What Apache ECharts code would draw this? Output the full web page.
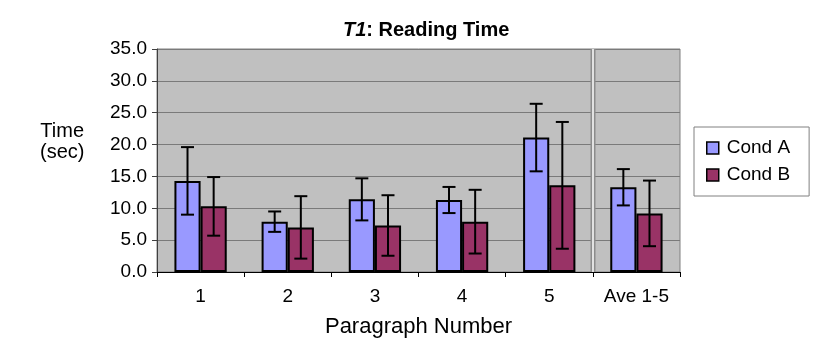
<!DOCTYPE html>
<html>
<head>
<meta charset="utf-8">
<script src="https://cdn.jsdelivr.net/npm/echarts@6/dist/echarts.min.js"></script>
<style>
html,body{margin:0;padding:0;background:#fff;}
#chart{width:837px;height:360px;}
</style>
</head>
<body>
<div id="chart"></div>
<script>
var categories = ['1', '2', '3', '4', '5', 'Ave 1-5'];
var condA = [14.3, 7.9, 11.4, 11.3, 21.1, 13.3];
var condB = [10.3, 7.0, 7.3, 7.9, 13.6, 9.2];
var errA = [5.3, 1.6, 3.3, 2.05, 5.3, 2.85];
var errB = [4.6, 4.9, 4.75, 5.0, 9.95, 5.15];
var seriesNames = ['Cond A', 'Cond B'];
var separatorAt = [5]; // boundary before the "Ave 1-5" category
var yTicks = { min: 0, max: 35, interval: 5 };

var FONT = 'Liberation Sans, Arial, sans-serif';
var chart = echarts.init(document.getElementById('chart'), null, { renderer: 'canvas' });

function errData(vals, errs) {
  return vals.map(function (v, i) { return [i, v - errs[i], v + errs[i]]; });
}
function errorRenderer(sign) {
  return function (params, api) {
    var catW = api.size([1, 0])[0];
    var off = sign * catW * 0.6 / 4;
    var lo = api.coord([api.value(0), api.value(1)]);
    var hi = api.coord([api.value(0), api.value(2)]);
    var x = lo[0] + off;
    var cap = 6.5;
    var st = { stroke: '#000', lineWidth: 2 };
    return {
      type: 'group',
      children: [
        { type: 'line', shape: { x1: x, y1: lo[1], x2: x, y2: hi[1] }, style: st },
        { type: 'line', shape: { x1: x - cap, y1: lo[1], x2: x + cap, y2: lo[1] }, style: st },
        { type: 'line', shape: { x1: x - cap, y1: hi[1], x2: x + cap, y2: hi[1] }, style: st }
      ]
    };
  };
}
function separatorRenderer(params, api) {
  var b = api.coord([api.value(0), yTicks.min]);
  var t = api.coord([api.value(0), yTicks.max]);
  var x = Math.round(b[0]);
  return {
    type: 'group',
    children: [
      { type: 'rect', shape: { x: x - 2.5, y: t[1], width: 5, height: b[1] - t[1] }, style: { fill: '#8c8c8c' } },
      { type: 'rect', shape: { x: x - 0.75, y: t[1], width: 1.5, height: b[1] - t[1] }, style: { fill: '#ffffff' } }
    ]
  };
}

var option = {
  animation: false,
  textStyle: { fontFamily: FONT },
  title: {
    text: '{i|T1}{b|: Reading Time}',
    left: 338,
    top: 15,
    textStyle: {
      rich: {
        i: { fontFamily: FONT, fontSize: 20, fontWeight: 'bold', fontStyle: 'italic', color: '#000' },
        b: { fontFamily: FONT, fontSize: 20, fontWeight: 'bold', color: '#000' }
      }
    }
  },
  legend: {
    data: seriesNames,
    orient: 'vertical',
    left: 694,
    top: 127,
    padding: [11, 19, 11, 12],
    itemGap: 7,
    itemWidth: 12,
    itemHeight: 12,
    icon: 'rect',
    backgroundColor: '#fff',
    borderColor: '#808080',
    borderWidth: 1,
    borderRadius: 0,
    itemStyle: { borderColor: '#000', borderWidth: 1.5 },
    textStyle: { fontFamily: FONT, fontSize: 19, color: '#000', lineHeight: 20, padding: [0, 0, 0, 3] }
  },
  graphic: [
    {
      type: 'text',
      left: 40,
      top: 121,
      style: {
        text: 'Time\n(sec)',
        fontFamily: FONT,
        fontSize: 20,
        lineHeight: 21,
        fill: '#000',
        textAlign: 'center'
      }
    }
  ],
  grid: {
    left: 157,
    right: 157,
    top: 49,
    bottom: 88,
    show: true,
    backgroundColor: '#c0c0c0',
    borderColor: '#808080',
    borderWidth: 1
  },
  xAxis: [
    {
      type: 'category',
      data: categories,
      name: 'Paragraph Number',
      nameLocation: 'middle',
      nameGap: 44,
      nameTextStyle: { fontFamily: FONT, fontSize: 22, color: '#000' },
      axisLine: { lineStyle: { color: '#000', width: 1 } },
      axisTick: { show: true, length: 5, inside: false, lineStyle: { color: '#000' } },
      axisLabel: { fontFamily: FONT, fontSize: 19, color: '#000', margin: 15 },
      splitLine: { show: false }
    },
    {
      type: 'value',
      min: 0,
      max: categories.length,
      show: false
    }
  ],
  yAxis: {
    type: 'value',
    min: yTicks.min,
    max: yTicks.max,
    interval: yTicks.interval,
    axisLine: { show: true, lineStyle: { color: '#404040', width: 1 } },
    axisTick: { show: true, length: 5, inside: false, lineStyle: { color: '#404040' } },
    axisLabel: {
      fontFamily: FONT, fontSize: 19, color: '#000', margin: 10,
      formatter: function (v) { return v.toFixed(1); }
    },
    splitLine: { show: true, lineStyle: { color: '#7a7a7a', width: 1.2 } }
  },
  series: [
    {
      type: 'custom',
      name: 'separator',
      xAxisIndex: 1,
      renderItem: separatorRenderer,
      data: separatorAt.map(function (s) { return [s, yTicks.min]; }),
      encode: { x: 0, y: 1 },
      silent: true,
      z: 1
    },
    {
      name: seriesNames[0],
      type: 'bar',
      data: condA,
      barGap: '0%',
      barCategoryGap: '40%',
      itemStyle: { color: '#9999ff', borderColor: '#000', borderWidth: 2 }
    },
    {
      name: seriesNames[1],
      type: 'bar',
      data: condB,
      barGap: '0%',
      barCategoryGap: '40%',
      itemStyle: { color: '#993366', borderColor: '#000', borderWidth: 2 }
    },
    {
      type: 'custom',
      name: 'errA',
      renderItem: errorRenderer(-1),
      data: errData(condA, errA),
      encode: { x: 0, y: [1, 2] },
      z: 5
    },
    {
      type: 'custom',
      name: 'errB',
      renderItem: errorRenderer(1),
      data: errData(condB, errB),
      encode: { x: 0, y: [1, 2] },
      z: 5
    }
  ]
};
chart.setOption(option);
</script>
</body>
</html>
